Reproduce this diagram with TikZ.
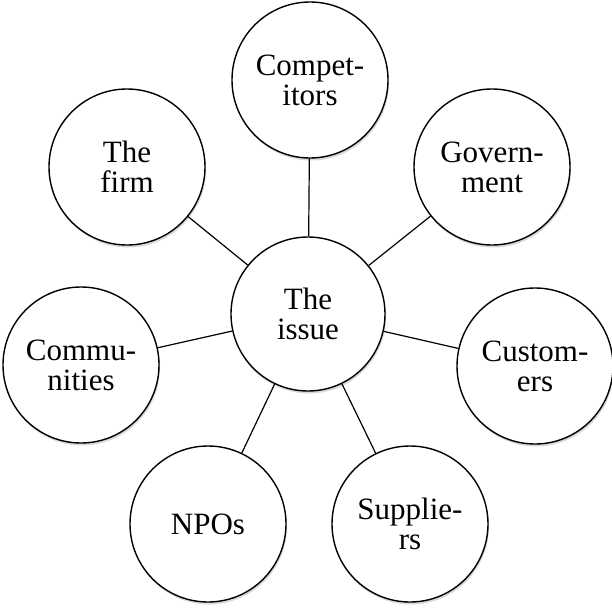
\documentclass[tikz,border=0pt]{standalone}
\usepackage{fontspec}
\setmainfont{Liberation Serif}
\usetikzlibrary{shadows}

\tikzset{
  party/.style={circle, draw, line width=1.4pt, fill=white,
    minimum size=156pt, inner sep=0pt, align=center,
    drop shadow={shadow xshift=1pt, shadow yshift=-2.5pt, opacity=0.3}},
  tie/.style={line width=1.2pt}
}

\begin{document}
\begin{tikzpicture}[x=1pt, y=-1pt, node font=\fontsize{31}{30}\selectfont]
  \useasboundingbox (0,0) rectangle (612,607);
  \node [party, minimum size=154pt] (issue) at (308,314) {The\\issue};
  \node [party] (comp) at (310,80)  {Compet-\\itors};
  \node [party] (gov)  at (492,167) {Govern-\\ment};
  \node [party] (firm) at (127,167) {The\\firm};
  \node [party] (comm) at (81,365)  {Commu-\\nities};
  \node [party] (cust) at (535,366) {Custom-\\ers};
  \node [party] (npo)  at (208,524) {NPOs};
  \node [party] (supp) at (410,524) {Supplie-\\rs};
  \draw [tie]
    (issue) -- (comp)
    (issue) -- (gov)
    (issue) -- (firm)
    (issue) -- (comm)
    (issue) -- (cust)
    (issue) -- (npo)
    (issue) -- (supp);
\end{tikzpicture}
\end{document}
